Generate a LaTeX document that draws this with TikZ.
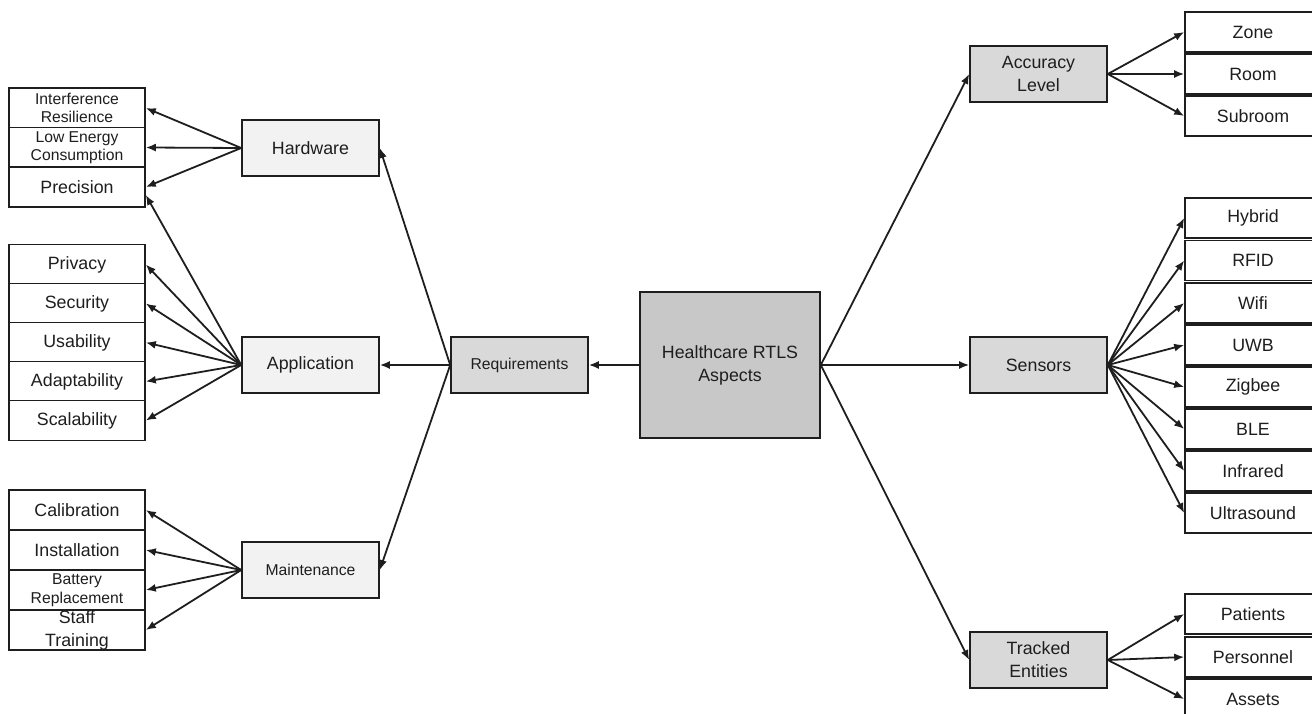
\documentclass[tikz,border=0pt]{standalone}
\usepackage{fontspec}
\setsansfont{Liberation Sans}
\usepackage{tikz}
\usetikzlibrary{arrows.meta}
\definecolor{hubgray}{HTML}{C8C8C8}
\definecolor{midgray}{HTML}{D9D9D9}
\definecolor{lightgray}{HTML}{F2F2F2}
\definecolor{inkgray}{HTML}{1E1E1E}
\newcommand{\bigtxt}{\fontsize{17.8}{23}\selectfont}
\newcommand{\smalltxt}{\fontsize{15.7}{18.5}\selectfont}
\tikzset{
  box/.style = {draw=inkgray, line width=1.6pt, align=center, inner sep=0pt,
    text=inkgray, font=\sffamily\bigtxt},
  rtls_c/.style = {box, fill=hubgray, minimum width=180pt, minimum height=146pt},% aspect central
  rtls_m/.style = {box, fill=midgray, minimum width=137pt, minimum height=56pt},% niveau 1
  rtls_l/.style = {box, fill=lightgray, minimum width=137pt, minimum height=56pt},% niveau 2
  rtls_f/.style = {box, fill=white, minimum width=136pt, minimum height=40pt}% feuille
}
\begin{document}
\begin{tikzpicture}[x=1pt,y=-1pt,->,>={Latex[length=10pt,width=8pt]},line width=1.8pt,draw=inkgray]
\useasboundingbox (0,0) rectangle (1312,714);
% centre et branches
\node [rtls_c] (rtls) at (730,365) {Healthcare RTLS\\Aspects};
\node [rtls_m, font=\sffamily\smalltxt] (req) at (519.5,365) {Requirements};
\node [rtls_l] (hw) at (310.5,148) {Hardware};
\node [rtls_l] (app) at (310.5,365) {Application};
\node [rtls_l, font=\sffamily\smalltxt] (mnt) at (310.5,570) {Maintenance};
\node [rtls_m] (acc) at (1038.5,74) {Accuracy\\Level};
\node [rtls_m] (sens) at (1038.5,365) {Sensors};
\node [rtls_m] (trk) at (1038.5,660) {Tracked\\Entities};
% feuilles gauche
\node [rtls_f, font=\sffamily\smalltxt] (intres) at (77,108) {Interference\\Resilience};
\node [rtls_f, font=\sffamily\smalltxt] (lowen) at (77,147.5) {Low Energy\\Consumption};
\node [rtls_f] (prec) at (77,187) {Precision};
\foreach \name/\txt/\y in {priv/Privacy/264.5, sec/Security/303.5, usab/Usability/342.5,
    adap/Adaptability/381.5, scal/Scalability/420.5, calib/Calibration/510,
    inst/Installation/550}
  \node [rtls_f] (\name) at (77,\y) {\txt};
\node [rtls_f, font=\sffamily\smalltxt] (batt) at (77,590) {Battery\\Replacement};
\node [rtls_f] (staff) at (77,630) {Staff\\Training};
% feuilles droite
\foreach \name/\txt/\y in {zone/Zone/32, room/Room/74, subr/Subroom/116,
    hyb/Hybrid/218, rfid/RFID/260.5, wifi/Wifi/303, uwb/UWB/345, zig/Zigbee/387,
    ble/BLE/429, ir/Infrared/471, us/Ultrasound/513,
    pat/Patients/614, pers/Personnel/657, ass/Assets/699}
  \node [rtls_f] (\name) at (1253,\y) {\txt};
% liens
\draw (rtls.west) -- (req.east);
\foreach \tgt in {hw,app,mnt} \draw (req.west) -- (\tgt.east);
\foreach \tgt in {intres,lowen,prec} \draw (hw.west) -- (\tgt.east);
\draw (app.west) -- ([yshift=-8pt]prec.east);
\foreach \tgt in {priv,sec,usab,adap,scal} \draw (app.west) -- (\tgt.east);
\foreach \tgt in {calib,inst,batt,staff} \draw (mnt.west) -- (\tgt.east);
\foreach \tgt in {acc,sens,trk} \draw (rtls.east) -- (\tgt.west);
\foreach \tgt in {zone,room,subr} \draw (acc.east) -- (\tgt.west);
\foreach \tgt in {hyb,rfid,wifi,uwb,zig,ble,ir,us} \draw (sens.east) -- (\tgt.west);
\foreach \tgt in {pat,pers,ass} \draw (trk.east) -- (\tgt.west);
\end{tikzpicture}
\end{document}
